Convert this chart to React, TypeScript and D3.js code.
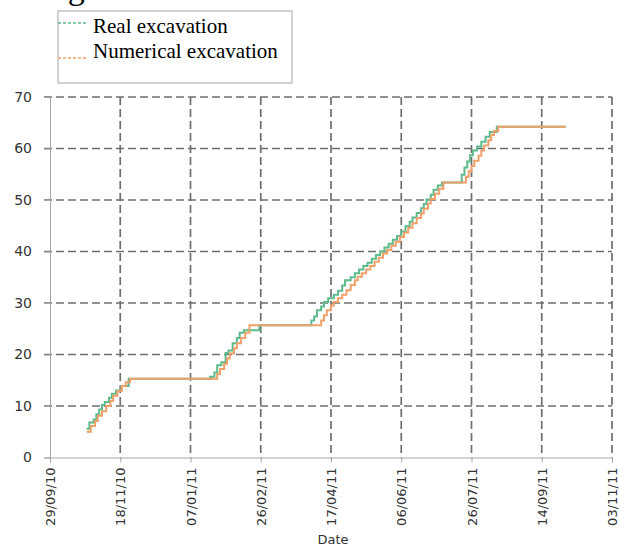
import React, { useEffect, useRef } from 'react'
import * as d3 from 'd3'

const parseDate = d3.timeParse('%Y-%m-%d')

// real excavation depth (step series)
const realDates = [
  '2010-10-25', '2010-10-27', '2010-10-30', '2010-11-01', '2010-11-03', '2010-11-05', '2010-11-07',
  '2010-11-10', '2010-11-12', '2010-11-15', '2010-11-19', '2010-11-24',
  '2011-01-21', '2011-01-24', '2011-01-26', '2011-01-29', '2011-02-01', '2011-02-03', '2011-02-06',
  '2011-02-09', '2011-02-11', '2011-02-14', '2011-02-25',
  '2011-04-03', '2011-04-05', '2011-04-07', '2011-04-10', '2011-04-12', '2011-04-15', '2011-04-19',
  '2011-04-22', '2011-04-25', '2011-04-27', '2011-05-01', '2011-05-04', '2011-05-07', '2011-05-10',
  '2011-05-13', '2011-05-16', '2011-05-19', '2011-05-22', '2011-05-25', '2011-05-28', '2011-05-31',
  '2011-06-03', '2011-06-06', '2011-06-09', '2011-06-12', '2011-06-14', '2011-06-17', '2011-06-20',
  '2011-06-22', '2011-06-24', '2011-06-27', '2011-06-29', '2011-07-02', '2011-07-05',
  '2011-07-19', '2011-07-21', '2011-07-23', '2011-07-25', '2011-07-27', '2011-07-30', '2011-08-02',
  '2011-08-05', '2011-08-08', '2011-08-13', '2011-10-01'
]
const realDepth = [
  5.6, 6.8, 7.4, 8.4, 9.3, 10.2, 10.8,
  11.6, 12.4, 13.0, 13.9, 15.3,
  15.7, 16.5, 17.9, 18.5, 20.3, 20.8, 22.2,
  23.2, 24.2, 24.7, 25.7,
  26.6, 27.4, 28.6, 29.3, 30.2, 30.9, 31.6,
  32.4, 33.4, 34.4, 35.0, 35.8, 36.5, 37.2,
  37.8, 38.6, 39.3, 40.0, 40.8, 41.5, 42.3,
  43.0, 43.9, 44.9, 45.8, 46.6, 47.5, 48.4,
  49.2, 50.1, 51.0, 52.0, 52.8, 53.4,
  54.9, 56.3, 57.5, 58.7, 59.6, 60.4, 61.3,
  62.3, 63.2, 64.2, 64.2
]

// numerical excavation depth (step series)
const numDates = [
  '2010-10-25', '2010-10-28', '2010-10-31', '2010-11-02', '2010-11-05', '2010-11-08', '2010-11-11',
  '2010-11-13', '2010-11-16', '2010-11-19', '2010-11-22', '2010-11-25',
  '2011-01-26', '2011-01-28', '2011-01-31', '2011-02-02', '2011-02-04', '2011-02-07', '2011-02-09',
  '2011-02-12', '2011-02-15', '2011-02-18',
  '2011-04-10', '2011-04-12', '2011-04-14', '2011-04-17', '2011-04-19', '2011-04-22', '2011-04-25',
  '2011-04-28', '2011-05-01', '2011-05-04', '2011-05-06', '2011-05-09', '2011-05-12', '2011-05-15',
  '2011-05-18', '2011-05-21', '2011-05-24', '2011-05-27', '2011-05-30', '2011-06-02', '2011-06-05',
  '2011-06-08', '2011-06-11', '2011-06-14', '2011-06-17', '2011-06-20', '2011-06-22', '2011-06-25',
  '2011-06-27', '2011-06-30', '2011-07-03', '2011-07-06',
  '2011-07-22', '2011-07-24', '2011-07-26', '2011-07-28', '2011-07-31', '2011-08-02', '2011-08-04',
  '2011-08-07', '2011-08-09', '2011-08-11', '2011-08-14', '2011-10-01'
]
const numDepth = [
  5.0, 6.1, 7.1, 8.1, 9.0, 10.0, 11.0,
  12.0, 12.9, 13.9, 14.6, 15.3,
  16.2, 17.2, 18.2, 19.2, 20.2, 21.2, 22.2,
  23.2, 24.2, 25.7,
  26.6, 27.6, 28.6, 29.5, 30.2, 30.9, 31.6,
  32.5, 33.5, 34.4, 35.1, 35.8, 36.5, 37.2,
  38.0, 38.8, 39.6, 40.3, 41.1, 41.9, 42.8,
  43.7, 44.6, 45.5, 46.5, 47.4, 48.3, 49.3,
  50.2, 51.2, 52.2, 53.4,
  54.5, 55.6, 56.6, 57.6, 58.6, 59.6, 60.6,
  61.6, 62.6, 63.4, 64.2, 64.2
]

const dateTicks = [
  '2010-09-29', '2010-11-18', '2011-01-07', '2011-02-26', '2011-04-17',
  '2011-06-06', '2011-07-26', '2011-09-14', '2011-11-03'
]
const depthTicks = [0, 10, 20, 30, 40, 50, 60, 70]
const legendLabels = ['Real excavation', 'Numerical excavation']
const seriesColors = ['#5dbb8c', '#f0a06a']

const App = () => {
  const ref = useRef<SVGSVGElement>(null)

  useEffect(() => {
    const svg = d3.select(ref.current)
    svg.selectAll('*').remove()

    const tickDates = dateTicks.map(d => parseDate(d) as Date)
    const x = d3.scaleTime()
      .domain([tickDates[0], tickDates[tickDates.length - 1]])
      .range([50, 612])
    const y = d3.scaleLinear().domain([0, 70]).range([457.5, 97])

    const grid = svg.append('g')
    grid.selectAll('line.h')
      .data(depthTicks.slice(1))
      .enter().append('line')
      .attr('x1', 44).attr('x2', x.range()[1])
      .attr('y1', d => y(d)).attr('y2', d => y(d))
      .attr('stroke', '#6e6e6e').attr('stroke-width', 1.7)
      .attr('stroke-dasharray', '8,4')
    grid.selectAll('line.v')
      .data(tickDates.slice(1))
      .enter().append('line')
      .attr('x1', d => x(d)).attr('x2', d => x(d))
      .attr('y1', y(70)).attr('y2', y(0))
      .attr('stroke', '#6e6e6e').attr('stroke-width', 1.7)
      .attr('stroke-dasharray', '8,4')

    const xAxis = svg.append('g')
      .attr('transform', `translate(0,${y(0)})`)
      .call(d3.axisBottom(x).tickValues(tickDates).tickFormat(d3.timeFormat('%d/%m/%y') as any).tickSizeOuter(0).tickSize(5))
    xAxis.select('.domain').attr('stroke', '#a6a6a6')
    xAxis.selectAll('.tick line').attr('stroke', '#a6a6a6')
    xAxis.selectAll('.tick text')
      .attr('transform', 'rotate(-90)')
      .attr('x', -10).attr('y', 0).attr('dy', '0.35em')
      .attr('text-anchor', 'end')
      .attr('fill', '#333')
      .style('font-family', 'DejaVu Sans')
      .style('font-size', '13px')

    const yAxis = svg.append('g')
      .attr('transform', 'translate(50,0)')
      .call(d3.axisLeft(y).tickValues(depthTicks).tickSizeOuter(0).tickSize(6))
    yAxis.select('.domain').attr('stroke', '#a6a6a6')
    yAxis.selectAll('.tick line').attr('stroke', '#a6a6a6')
    yAxis.selectAll('.tick text')
      .attr('x', -18)
      .attr('fill', '#333')
      .style('font-family', 'DejaVu Sans')
      .style('font-size', '14px')

    svg.append('text')
      .attr('x', 333).attr('y', 544)
      .attr('text-anchor', 'middle')
      .attr('fill', '#333')
      .style('font-family', 'DejaVu Sans')
      .style('font-size', '13px')
      .text('Date')

    const line = d3.line<[Date, number]>()
      .x(d => x(d[0]))
      .y(d => y(d[1]))
      .curve(d3.curveStepAfter)

    const series = [
      realDates.map((d, i) => [parseDate(d) as Date, realDepth[i]] as [Date, number]),
      numDates.map((d, i) => [parseDate(d) as Date, numDepth[i]] as [Date, number])
    ]
    series.forEach((s, i) => {
      svg.append('path')
        .datum(s)
        .attr('d', line)
        .attr('fill', 'none')
        .attr('stroke', seriesColors[i])
        .attr('stroke-width', 2)
    })

    // legend (title is cut off at the top edge, as in the source)
    svg.append('text')
      .attr('x', 32).attr('y', -1)
      .style('font-family', 'Liberation Serif')
      .style('font-size', '34px')
      .text('Legend')
    svg.append('rect')
      .attr('x', 58).attr('y', 11).attr('width', 234).attr('height', 72)
      .attr('fill', 'none').attr('stroke', '#c4c4c4').attr('stroke-width', 1.5)
    const legendLineY = [23, 58]
    legendLabels.forEach((label, i) => {
      svg.append('line')
        .attr('x1', 58).attr('x2', 88)
        .attr('y1', legendLineY[i]).attr('y2', legendLineY[i])
        .attr('stroke', seriesColors[i]).attr('stroke-width', 1.5)
        .attr('stroke-dasharray', '3,2')
      svg.append('text')
        .attr('x', 93).attr('y', 33 + i * 25)
        .style('font-family', 'Liberation Serif')
        .style('font-size', '21px')
        .attr('fill', '#000')
        .text(label)
    })
  }, [])

  return (
    <svg ref={ref} width={619} height={551}
      style={{ position: 'absolute', left: 0, top: 0, background: '#fff' }} />
  )
}

export default App
